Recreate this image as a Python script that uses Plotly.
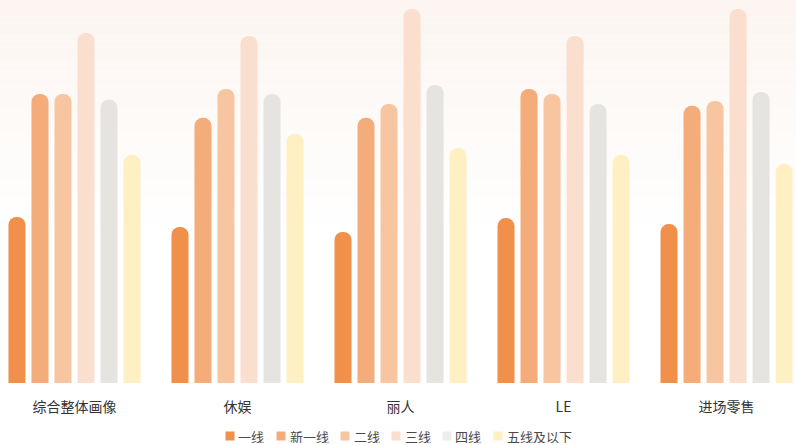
import plotly.graph_objects as go

# Category labels and tier series
categories = ["综合整体画像", "休娱", "丽人", "LE", "进场零售"]
tiers = ["一线", "新一线", "二线", "三线", "四线", "五线及以下"]
tier_colors = ["#F0904A", "#F3AC7A", "#F7C5A0", "#FADECE", "#E5E4E1", "#FFF0C3"]
legend_colors = ["#F0904A", "#F3AC7A", "#F7C5A0", "#FADECE", "#EDEDED", "#FFF0C3"]

tier_1 = [44.4, 41.7, 40.4, 44.1, 42.5]
tier_new1 = [77.3, 70.9, 70.9, 78.6, 74.1]
tier_2 = [77.3, 78.6, 74.6, 77.3, 75.4]
tier_3 = [93.6, 92.8, 100.0, 92.8, 100.0]
tier_4 = [75.7, 77.3, 79.7, 74.6, 77.8]
tier_5 = [61.0, 66.6, 62.8, 61.0, 58.6]
series = [tier_1, tier_new1, tier_2, tier_3, tier_4, tier_5]

W, H = 796, 445
M_BOTTOM = 62
plot_h = H - M_BOTTOM

fig = go.Figure()
for name, vals, col in zip(tiers, series, tier_colors):
    fig.add_trace(go.Bar(
        x=categories, y=vals, name=name,
        marker=dict(color=col, line=dict(width=0), cornerradius="50%"),
        showlegend=False, hoverinfo="x+y+name",
    ))

# soft peach-to-white background gradient over the upper part of the plot area
steps = 40
fade_frac = 0.62
top_rgb = (252, 245, 241)
for i in range(steps):
    t = i / (steps - 1)
    r = round(top_rgb[0] + (255 - top_rgb[0]) * t)
    g = round(top_rgb[1] + (255 - top_rgb[1]) * t)
    b = round(top_rgb[2] + (255 - top_rgb[2]) * t)
    y1 = 1 - fade_frac * i / steps
    y0 = 1 - fade_frac * (i + 1) / steps
    fig.add_shape(type="rect", xref="paper", yref="paper", x0=0, x1=1,
                  y0=y0, y1=y1, line=dict(width=0),
                  fillcolor=f"rgb({r},{g},{b})", layer="below")

# compact custom legend row, centred under the chart
font_px = 13
sw, sw_gap, item_gap = 9, 3, 13
widths = [sw + sw_gap + font_px * len(n) for n in tiers]
total = sum(widths) + item_gap * (len(tiers) - 1)
x = (W - total) / 2
leg_cy = 436
yc = (plot_h - leg_cy) / plot_h
half = (sw / 2) / plot_h
for name, col, w in zip(tiers, legend_colors, widths):
    fig.add_shape(type="rect", xref="paper", yref="paper",
                  x0=x / W, x1=(x + sw) / W, y0=yc - half, y1=yc + half,
                  line=dict(width=0), fillcolor=col)
    fig.add_annotation(xref="paper", yref="paper", x=(x + sw + sw_gap) / W, y=yc,
                       text=name, showarrow=False, xanchor="left", yanchor="middle",
                       height=14, valign="middle", borderpad=0,
                       font=dict(size=font_px, color="#4A4A4A"))
    x += w + item_gap

fig.update_layout(
    width=W, height=H,
    margin=dict(l=0, r=0, t=0, b=M_BOTTOM, pad=0),
    paper_bgcolor="#FFFFFF", plot_bgcolor="rgba(0,0,0,0)",
    barmode="group", bargap=0.153, bargroupgap=0.26,
    font=dict(family="Noto Sans CJK SC, Noto Sans, sans-serif", color="#333333"),
)
fig.update_xaxes(range=[-0.457, 4.426], showgrid=False, showline=False,
                 zeroline=False, ticks="", tickfont=dict(size=14, color="#333333"),
                 ticklabelstandoff=14)
fig.update_yaxes(range=[0, 102.4], visible=False, showgrid=False, zeroline=False)

fig.write_html("out.html")
